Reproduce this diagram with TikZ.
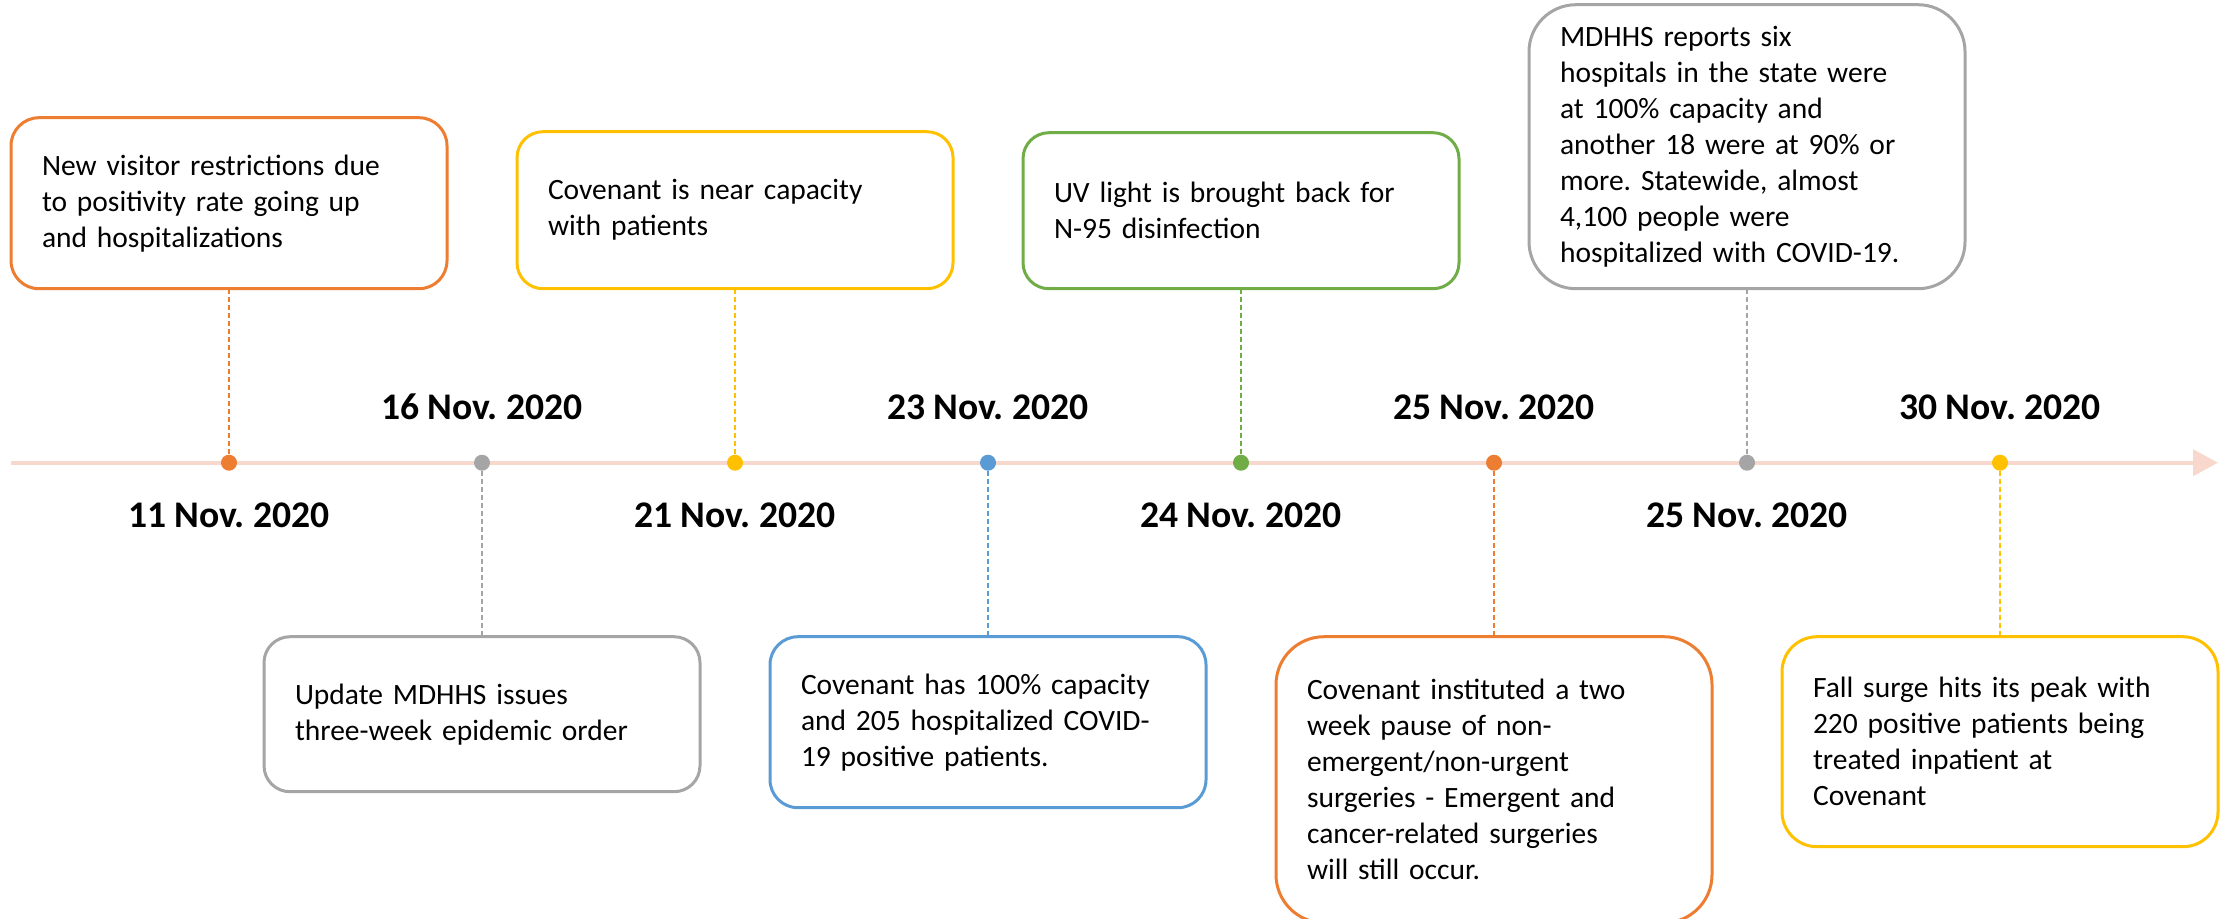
\documentclass[tikz,border=0pt]{standalone}
\usepackage{fontspec}
\setmainfont{Carlito}
\usepackage{tikz}
\usetikzlibrary{positioning, arrows.meta}
\definecolor{evorange}{HTML}{ED7D31}
\definecolor{evgray}{HTML}{A5A5A5}
\definecolor{evyellow}{HTML}{FFC000}
\definecolor{evblue}{HTML}{5B9BD5}
\definecolor{evgreen}{HTML}{70AD47}
\definecolor{tlpeach}{HTML}{F8D8CD}
\frenchspacing
\tikzset{
  timeline/.style={
	draw=tlpeach, line width=2pt, % pale axis through all dates
	-{Triangle[length=12.5pt, width=13pt]}, % head at the right end
  },
  dot/.style={circle, fill=#1, minimum size=8pt, inner sep=0pt, outer sep=0pt}, % one date on the axis
  event/.style={
	draw=#1, line width=1.5pt, % box outline in the colour of its dot
	rounded corners=13pt,
	text width=187pt, inner xsep=15.5pt, inner ysep=4pt, outer sep=0pt,
	align=left, font=\fontsize{14.75}{18}\selectfont,
  },
  conn/.style={draw=#1, line width=0.75pt, dash pattern=on 2.5pt off 1.5pt}, % box to dot
  datelbl/.style={font=\bfseries\fontsize{18.8}{22}\selectfont},
}
\begin{document}
\begin{tikzpicture}[x=0.5pt, y=-0.5pt, node distance=126.5pt]
\useasboundingbox (0,0) rectangle (2231,918);

% the axis
\coordinate (tl start) at (11,462.7);
\coordinate (tl end) at (2218,462.7);
\draw[timeline] (tl start) -- (tl end);

% dates on the axis
\node[dot=evorange] (d1) at (229,462.7) {};
\node[dot=evgray, right of=d1] (d2) {};
\node[dot=evyellow, right of=d2] (d3) {};
\node[dot=evblue, right of=d3] (d4) {};
\node[dot=evgreen, right of=d4] (d5) {};
\node[dot=evorange, right of=d5] (d6) {};
\node[dot=evgray, right of=d6] (d7) {};
\node[dot=evyellow, right of=d7] (d8) {};

\node[datelbl, below of=d1, node distance=26.5pt] (t1) {11 Nov. 2020};
\node[datelbl, above of=d2, node distance=27.75pt] (t2) {16 Nov. 2020};
\node[datelbl, below of=d3, node distance=26.5pt] (t3) {21 Nov. 2020};
\node[datelbl, above of=d4, node distance=27.75pt] (t4) {23 Nov. 2020};
\node[datelbl, below of=d5, node distance=26.5pt] (t5) {24 Nov. 2020};
\node[datelbl, above of=d6, node distance=27.75pt] (t6) {25 Nov. 2020};
\node[datelbl, below of=d7, node distance=26.5pt] (t7) {25 Nov. 2020};
\node[datelbl, above of=d8, node distance=27.75pt] (t8) {30 Nov. 2020};

% events above the axis
\node[event=evorange, minimum height=85.5pt, rounded corners=14pt, above=83pt of d1] (e1)
  {New visitor restrictions due\\to positivity rate going up\\and hospitalizations};
\node[event=evyellow, minimum height=78.5pt, above=83pt of d3] (e3)
  {Covenant is near capacity\\with patients};
\node[event=evgreen, minimum height=78pt, above=83pt of d5] (e5)
  {UV light is brought back for\\N-95 disinfection};
\node[event=evgray, minimum height=142pt, rounded corners=23.5pt, above=83pt of d7] (e7)
  {MDHHS reports six\\hospitals in the state were\\at 100\% capacity and\\another 18 were at 90\% or\\more. Statewide, almost\\4,100 people were\\hospitalized with COVID-19.};

% events below the axis
\node[event=evgray, minimum height=77.5pt, below=83pt of d2] (e2)
  {Update MDHHS issues\\three-week epidemic order};
\node[event=evblue, minimum height=85.5pt, rounded corners=14pt, below=83pt of d4] (e4)
  {Covenant has 100\% capacity\\and 205 hospitalized COVID-\\19 positive patients.};
\node[event=evorange, minimum height=143pt, rounded corners=24pt, below=83pt of d6] (e6)
  {Covenant instituted a two\\week pause of non-\\emergent/non-urgent\\surgeries - Emergent and\\cancer-related surgeries\\will still occur.};
\node[event=evyellow, minimum height=105pt, rounded corners=17.5pt, below=83pt of d8] (e8)
  {Fall surge hits its peak with\\220 positive patients being\\treated inpatient at\\Covenant};

\draw[conn=evorange] (e1) -- (d1);
\draw[conn=evyellow] (e3) -- (d3);
\draw[conn=evgreen] (e5) -- (d5);
\draw[conn=evgray] (e7) -- (d7);
\draw[conn=evgray] (d2) -- (e2);
\draw[conn=evblue] (d4) -- (e4);
\draw[conn=evorange] (d6) -- (e6);
\draw[conn=evyellow] (d8) -- (e8);
\end{tikzpicture}
\end{document}
